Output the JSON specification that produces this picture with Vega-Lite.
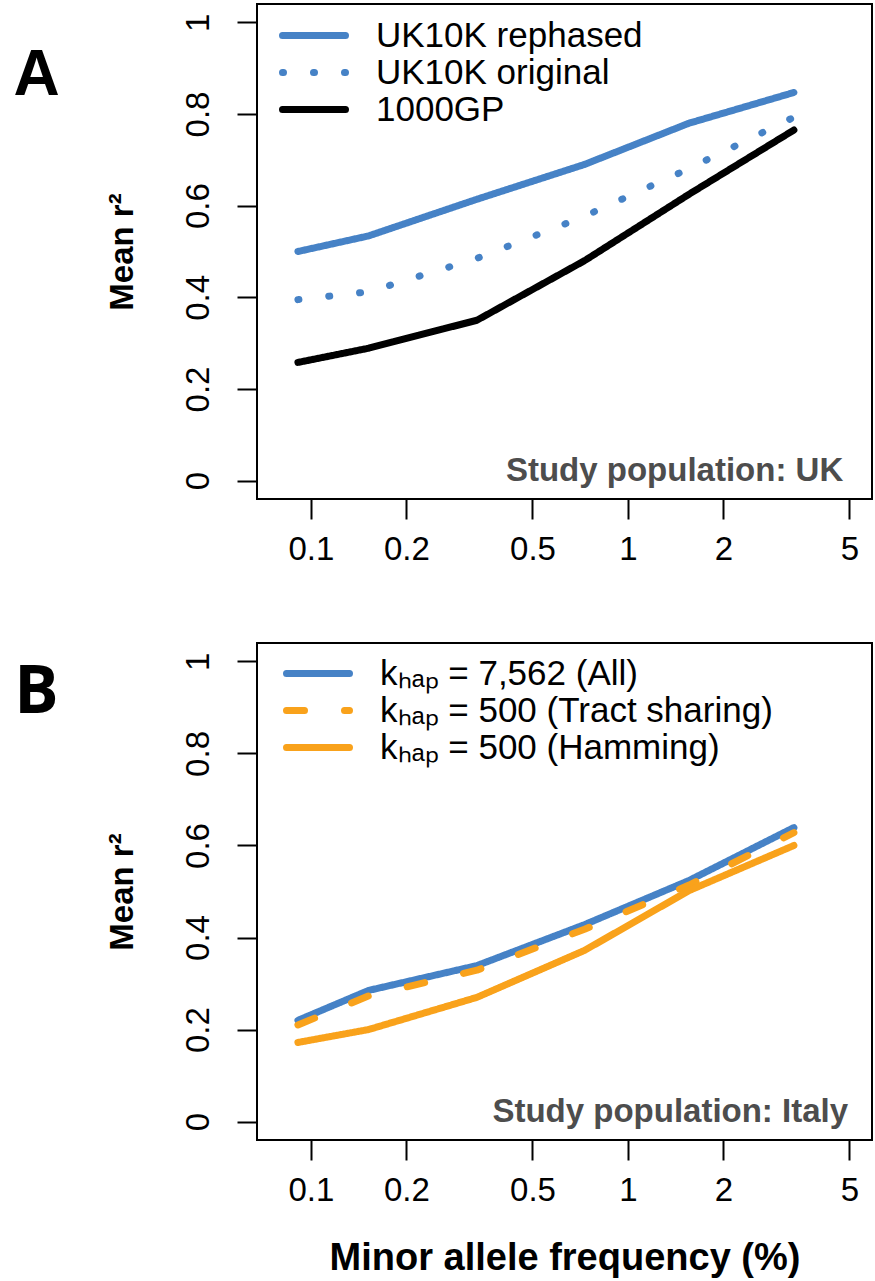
{
  "$schema": "https://vega.github.io/schema/vega-lite/v6.json",
  "padding": {"left": 12, "top": 3, "right": 2, "bottom": 5},
  "background": "white",
  "spacing": 75,
  "config": {
    "font": "Liberation Sans",
    "view": {"stroke": "black", "strokeWidth": 2},
    "axis": {"grid": false, "domain": false, "tickColor": "black", "tickWidth": 2, "tickSize": 20, "labelFontSize": 33, "labelColor": "black", "labelFont": "Liberation Sans", "titleFont": "Liberation Sans", "titleColor": "black"},
    "legend": {"title": null, "symbolType": "stroke", "symbolSize": 3969, "symbolStrokeWidth": 7, "labelFontSize": 35, "labelFont": "Liberation Sans", "labelColor": "black", "labelOffset": 27, "clipHeight": 37, "rowPadding": 0, "labelLimit": 0, "padding": 0}
  },
  "resolve": {"scale": {"color": "independent", "strokeDash": "independent", "x": "independent", "y": "independent"}},
  "vconcat": [
    {
      "width": 615,
      "height": 495,
      "title": {"text": "A", "orient": "left", "anchor": "end", "angle": 0, "align": "right", "baseline": "top", "fontSize": 64, "fontWeight": "bold", "offset": 0, "dy": 40, "frame": "bounds", "color": "black", "font": "Liberation Sans"},
      "data": {"values": [
        {"maf": 0.091, "r2": 0.500, "series": "UK10K rephased"},
        {"maf": 0.152, "r2": 0.534, "series": "UK10K rephased"},
        {"maf": 0.334, "r2": 0.614, "series": "UK10K rephased"},
        {"maf": 0.73, "r2": 0.690, "series": "UK10K rephased"},
        {"maf": 1.56, "r2": 0.780, "series": "UK10K rephased"},
        {"maf": 3.34, "r2": 0.847, "series": "UK10K rephased"},
        {"maf": 0.091, "r2": 0.395, "series": "UK10K original"},
        {"maf": 0.152, "r2": 0.412, "series": "UK10K original"},
        {"maf": 0.334, "r2": 0.485, "series": "UK10K original"},
        {"maf": 0.73, "r2": 0.577, "series": "UK10K original"},
        {"maf": 1.56, "r2": 0.681, "series": "UK10K original"},
        {"maf": 3.34, "r2": 0.793, "series": "UK10K original"},
        {"maf": 0.091, "r2": 0.258, "series": "1000GP"},
        {"maf": 0.152, "r2": 0.289, "series": "1000GP"},
        {"maf": 0.334, "r2": 0.350, "series": "1000GP"},
        {"maf": 0.73, "r2": 0.480, "series": "1000GP"},
        {"maf": 1.56, "r2": 0.625, "series": "1000GP"},
        {"maf": 3.34, "r2": 0.765, "series": "1000GP"}
      ]},
      "layer": [
        {
          "mark": {"type": "line", "strokeWidth": 7, "strokeCap": "round", "strokeJoin": "round", "clip": true},
          "encoding": {
            "x": {"field": "maf", "type": "quantitative", "scale": {"type": "log", "domain": [0.0676, 5.89], "nice": false}, "axis": {"values": [0.1, 0.2, 0.5, 1, 2, 5], "format": "~g", "title": null, "labelPadding": 14}},
            "y": {"field": "r2", "type": "quantitative", "scale": {"domain": [-0.04, 1.04], "nice": false, "zero": false}, "axis": {"values": [0, 0.2, 0.4, 0.6, 0.8, 1], "format": "~g", "labelAngle": -90, "labelAlign": "center", "labelBaseline": "bottom", "labelPadding": 22, "title": "Mean r²", "titleFontSize": 33, "titleFontWeight": "bold", "titlePadding": 43}},
            "color": {"field": "series", "type": "nominal", "scale": {"domain": ["UK10K rephased", "UK10K original", "1000GP"], "range": ["#4682c6", "#4682c6", "#000000"]}, "legend": {"orient": "none", "legendX": 22, "legendY": 13, "encode": {"symbols": {"update": {"strokeCap": {"value": "round"}}}}}},
            "strokeDash": {"field": "series", "type": "nominal", "scale": {"domain": ["UK10K rephased", "UK10K original", "1000GP"], "range": [[1, 0], [1, 30], [1, 0]]}, "legend": {"orient": "none", "legendX": 22, "legendY": 13, "encode": {"symbols": {"update": {"strokeCap": {"value": "round"}}}}}}
          }
        },
        {
          "data": {"values": [{}]},
          "mark": {"type": "text", "align": "right", "baseline": "alphabetic", "fontSize": 33, "fontWeight": "bold", "color": "#4d4d4d"},
          "encoding": {"x": {"datum": 4.78}, "y": {"datum": 0}, "text": {"value": "Study population: UK"}}
        }
      ]
    },
    {
      "width": 615,
      "height": 497,
      "title": {"text": "B", "orient": "left", "anchor": "end", "angle": 0, "align": "right", "baseline": "top", "fontSize": 66, "fontWeight": "bold", "offset": 3, "frame": "bounds", "color": "black", "font": "Open Sans", "dy": 18},
      "data": {"values": [
        {"maf": 0.091, "r2": 0.220, "series": "kₕₐₚ = 7,562 (All)"},
        {"maf": 0.152, "r2": 0.285, "series": "kₕₐₚ = 7,562 (All)"},
        {"maf": 0.334, "r2": 0.339, "series": "kₕₐₚ = 7,562 (All)"},
        {"maf": 0.73, "r2": 0.428, "series": "kₕₐₚ = 7,562 (All)"},
        {"maf": 1.56, "r2": 0.524, "series": "kₕₐₚ = 7,562 (All)"},
        {"maf": 3.34, "r2": 0.639, "series": "kₕₐₚ = 7,562 (All)"},
        {"maf": 0.091, "r2": 0.210, "series": "kₕₐₚ = 500 (Tract sharing)"},
        {"maf": 0.152, "r2": 0.273, "series": "kₕₐₚ = 500 (Tract sharing)"},
        {"maf": 0.334, "r2": 0.329, "series": "kₕₐₚ = 500 (Tract sharing)"},
        {"maf": 0.73, "r2": 0.418, "series": "kₕₐₚ = 500 (Tract sharing)"},
        {"maf": 1.56, "r2": 0.514, "series": "kₕₐₚ = 500 (Tract sharing)"},
        {"maf": 3.34, "r2": 0.628, "series": "kₕₐₚ = 500 (Tract sharing)"},
        {"maf": 0.091, "r2": 0.172, "series": "kₕₐₚ = 500 (Hamming)"},
        {"maf": 0.152, "r2": 0.200, "series": "kₕₐₚ = 500 (Hamming)"},
        {"maf": 0.334, "r2": 0.270, "series": "kₕₐₚ = 500 (Hamming)"},
        {"maf": 0.73, "r2": 0.372, "series": "kₕₐₚ = 500 (Hamming)"},
        {"maf": 1.56, "r2": 0.502, "series": "kₕₐₚ = 500 (Hamming)"},
        {"maf": 3.34, "r2": 0.600, "series": "kₕₐₚ = 500 (Hamming)"}
      ]},
      "layer": [
        {
          "mark": {"type": "line", "strokeWidth": 7, "strokeCap": "round", "strokeJoin": "round", "clip": true},
          "encoding": {
            "x": {"field": "maf", "type": "quantitative", "scale": {"type": "log", "domain": [0.0676, 5.89], "nice": false}, "axis": {"values": [0.1, 0.2, 0.5, 1, 2, 5], "format": "~g", "title": "Minor allele frequency (%)", "titleFontSize": 38, "titleFontWeight": "bold", "titlePadding": 32, "labelPadding": 14}},
            "y": {"field": "r2", "type": "quantitative", "scale": {"domain": [-0.04, 1.04], "nice": false, "zero": false}, "axis": {"values": [0, 0.2, 0.4, 0.6, 0.8, 1], "format": "~g", "labelAngle": -90, "labelAlign": "center", "labelBaseline": "bottom", "labelPadding": 22, "title": "Mean r²", "titleFontSize": 33, "titleFontWeight": "bold", "titlePadding": 43}},
            "color": {"field": "series", "type": "nominal", "scale": {"domain": ["kₕₐₚ = 7,562 (All)", "kₕₐₚ = 500 (Tract sharing)", "kₕₐₚ = 500 (Hamming)"], "range": ["#4682c6", "#f9a21b", "#f9a21b"]}, "legend": {"orient": "none", "legendX": 26, "legendY": 12, "encode": {"symbols": {"update": {"strokeCap": {"value": "round"}}}}}},
            "strokeDash": {"field": "series", "type": "nominal", "scale": {"domain": ["kₕₐₚ = 7,562 (All)", "kₕₐₚ = 500 (Tract sharing)", "kₕₐₚ = 500 (Hamming)"], "range": [[1, 0], [18, 40], [1, 0]]}, "legend": {"orient": "none", "legendX": 26, "legendY": 12, "encode": {"symbols": {"update": {"strokeCap": {"value": "round"}}}}}}
          }
        },
        {
          "data": {"values": [{}]},
          "mark": {"type": "text", "align": "right", "baseline": "alphabetic", "fontSize": 33, "fontWeight": "bold", "color": "#4d4d4d"},
          "encoding": {"x": {"datum": 4.95}, "y": {"datum": 0}, "text": {"value": "Study population: Italy"}}
        }
      ]
    }
  ]
}
